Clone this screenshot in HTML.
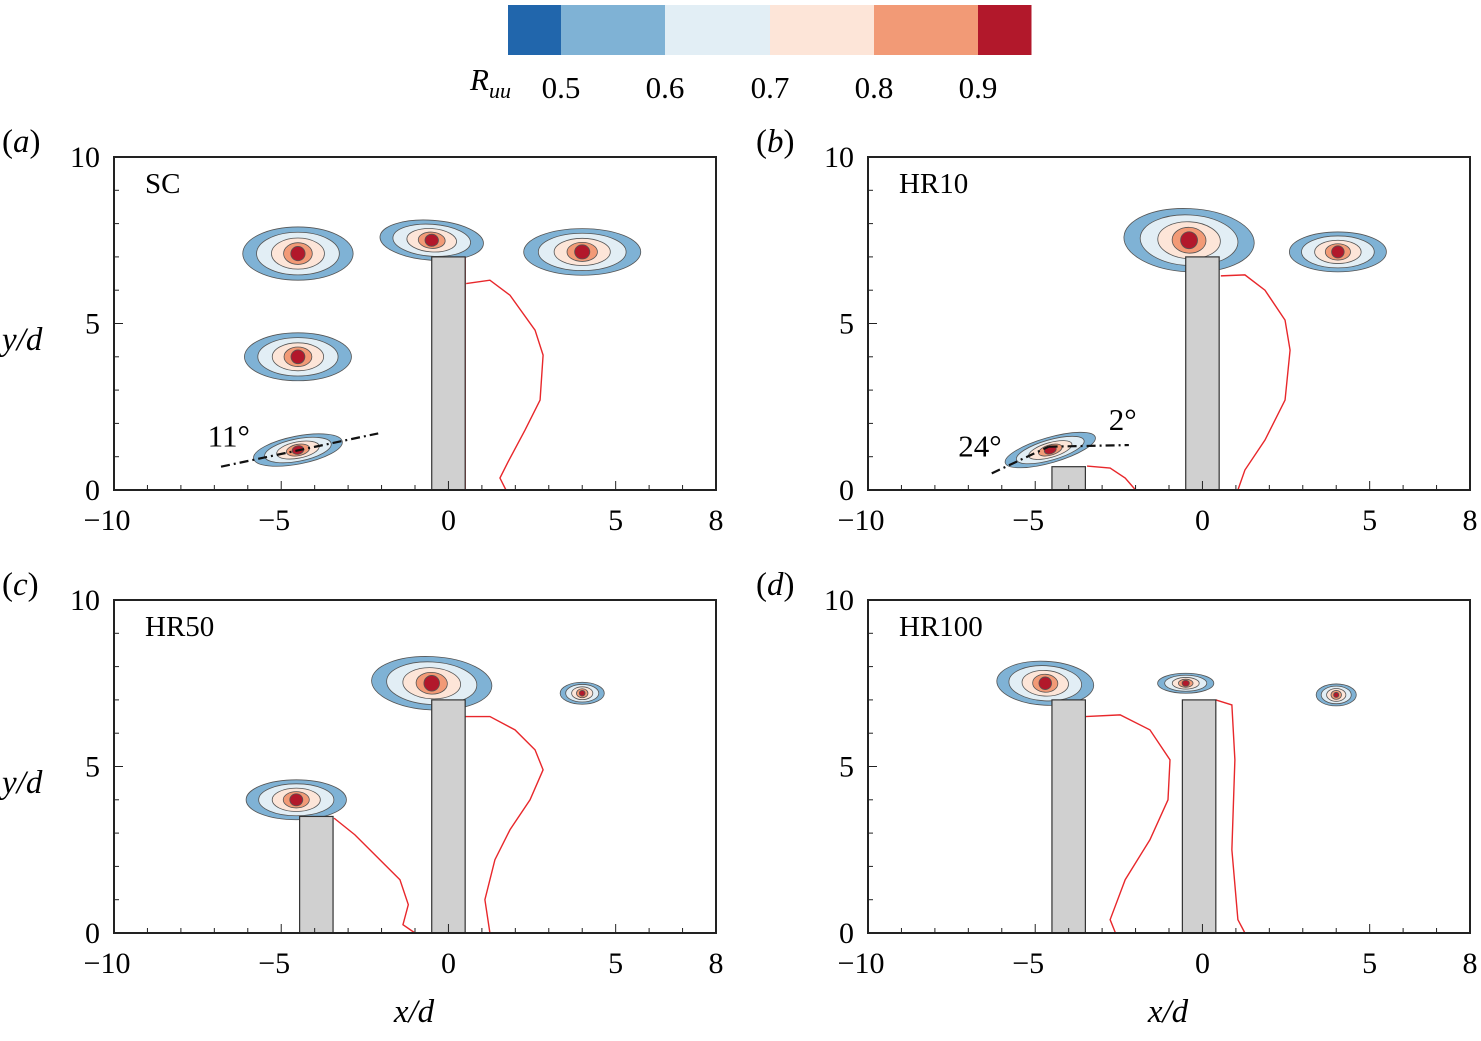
<!DOCTYPE html>
<html><head><meta charset="utf-8">
<style>
body{margin:0;background:#fff;width:1481px;height:1036px;overflow:hidden}
svg text{font-family:"Liberation Serif",serif;fill:#000}
</style></head>
<body>
<svg id="fig" width="1481" height="1036" viewBox="0 0 1481 1036" xmlns="http://www.w3.org/2000/svg">
<g id="cbar"></g>
<g id="panels"></g>
</svg>
<script>
const NS="http://www.w3.org/2000/svg";
const levelColors=["#2166ac","#7fb2d5","#e2eef5","#fde5d8","#f29a76","#b2182b"];
const levelLabels=["0.5","0.6","0.7","0.8","0.9"];
const panelIds=["a","b","c","d"];
const panelNames=["SC","HR10","HR50","HR100"];
// vortices: [x, y, rx, ry, rotDeg] in data units
const vortA=[[-4.5,7.1,1.65,0.8,0],[-0.5,7.5,1.55,0.6,-4],[4.0,7.15,1.75,0.7,0],[-4.5,4.0,1.6,0.72,0],[-4.5,1.2,1.35,0.42,11]];
const vortB=[[-0.4,7.5,1.95,0.95,-3],[4.05,7.15,1.45,0.6,0],[-4.55,1.2,1.4,0.38,16]];
const vortC=[[-0.5,7.5,1.8,0.8,-3],[4.0,7.2,0.66,0.33,0],[-4.55,4.0,1.5,0.6,0]];
const vortD=[[-4.7,7.5,1.45,0.66,-3],[-0.5,7.5,0.84,0.3,0],[4.0,7.15,0.6,0.33,0]];
// cylinders: [xLeft, width, height]
const cylA=[[-0.5,1,7]];
const cylB=[[-4.5,1,0.7],[-0.5,1,7]];
const cylC=[[-4.45,1,3.5],[-0.5,1,7]];
const cylD=[[-4.5,1,7],[-0.6,1,7]];
// red contour lines: arrays of [x,y]
const redA=[[[0.5,0],[0.5,7.0]],[[0.53,6.2],[1.24,6.3],[1.84,5.85],[2.59,4.8],[2.83,4.05],[2.74,2.7],[2.29,1.8],[1.78,0.84],[1.54,0.36],[1.72,0]]];
const redB=[[[0.55,6.43],[1.27,6.46],[1.87,6.0],[2.47,5.1],[2.62,4.2],[2.47,2.7],[1.87,1.5],[1.27,0.6],[1.06,0]],[[-3.45,0.72],[-2.76,0.66],[-2.31,0.36],[-2.0,0]]];
const redC=[[[0.5,6.5],[1.24,6.5],[1.99,6.1],[2.59,5.5],[2.83,4.9],[2.44,4.0],[1.84,3.1],[1.39,2.2],[1.09,1.0],[1.24,0]],[[-3.42,3.45],[-2.8,2.95],[-2.05,2.2],[-1.45,1.6],[-1.2,0.85],[-1.36,0.25],[-1.0,0]]];
const redD=[[[-3.5,6.5],[-2.46,6.55],[-1.57,6.1],[-0.97,5.2],[-1.03,4.0],[-1.57,2.8],[-2.31,1.6],[-2.76,0.4],[-2.6,0]],[[0.4,7.0],[0.88,6.85],[0.97,5.2],[0.88,2.5],[1.06,0.4],[1.27,0]]];
const vorts=[vortA,vortB,vortC,vortD];
const cyls=[cylA,cylB,cylC,cylD];
const reds=[redA,redB,redC,redD];
const xTicks=[-10,-5,0,5,8];
const yTicks=[0,5,10];
const angleLines=[[{x0:-6.8,y0:0.7,x1:-2.1,y1:1.7,label:"11°",lx:-7.2,ly:1.3}],[{x0:-6.3,y0:0.5,x1:-4.6,y1:1.3,label:"24°",lx:-7.3,ly:1.0},{x0:-4.6,y0:1.3,x1:-2.2,y1:1.35,label:"2°",lx:-2.8,ly:1.8}],[],[]];
const origins=[[114,157],[868,157],[114,600],[868,600]];
const PW=602,PH=333;

function mk(tag,attrs,parent){const e=document.createElementNS(NS,tag);for(const k in attrs)e.setAttribute(k,attrs[k]);parent.appendChild(e);return e;}

// colorbar
const cb=document.getElementById('cbar');
const cbX=[508,561,665,770,874,978,1031];
levelColors.forEach((c,i)=>{const r=mk('rect',{x:cbX[i],y:5,width:cbX[i+1]-cbX[i]+0.5,height:50,fill:c},cb);

});
levelLabels.forEach((l,i)=>{const t=mk('text',{x:cbX[i+1],y:98,'font-size':31,'text-anchor':'middle'},cb);t.textContent=l;

});
const rl=mk('text',{x:470,y:90,'font-size':31,'font-style':'italic'},cb);
rl.innerHTML='R<tspan font-size="22" dy="8">uu</tspan>';



const P=document.getElementById('panels');
for(let p=0;p<4;p++){
  const [ox,oy]=origins[p];
  const sx=v=>ox+(v+10)*PW/18, sy=v=>oy+PH-v*PH/10;
  const g=mk('g',{},P);
  
  
  vorts[p].forEach(v=>{
    const vg=mk('g',{transform:`rotate(${-v[4]} ${sx(v[0])} ${sy(v[1])})`},g);
    
    
    const scales=[1,0.75,0.48,0.26,0.13];
    const cols=[levelColors[1],levelColors[2],levelColors[3],levelColors[4],levelColors[5]];
    scales.forEach((s,i)=>{
      const rx=v[2]*s*PW/18, ry=v[3]*Math.max(s,0.2+0.8*s)*PH/10;
      mk('ellipse',{cx:sx(v[0]),cy:sy(v[1]),rx:rx,ry:Math.min(ry,rx),fill:cols[i],stroke:'#555','stroke-width':0.8},vg);
    });
  });
  reds[p].forEach(line=>{
    const pl=mk('polyline',{points:line.map(q=>sx(q[0])+','+sy(q[1])).join(' '),fill:'none',stroke:'#e8272b','stroke-width':1.4},g);
    
    
  });
  cyls[p].forEach(c=>{
    const r=mk('rect',{x:sx(c[0]),y:sy(c[2]),width:c[1]*PW/18,height:c[2]*PH/10,fill:'#d0d0d0',stroke:'#333','stroke-width':1.2},g);
    
    
  });
  angleLines[p].forEach(a=>{
    const l=mk('line',{x1:sx(a.x0),y1:sy(a.y0),x2:sx(a.x1),y2:sy(a.y1),stroke:'#111','stroke-width':2.2,'stroke-dasharray':'9,4,2,4'},g);
    
    
    const t=mk('text',{x:sx(a.lx),y:sy(a.ly),'font-size':31},g);t.textContent=a.label;
    
    
  });
  const fr=mk('rect',{x:ox,y:oy,width:PW,height:PH,fill:'none',stroke:'#222','stroke-width':2},g);
  
  
  for(let v=-9;v<=7;v++){mk('line',{x1:sx(v),y1:oy+PH,x2:sx(v),y2:oy+PH-(v%5===0?9:5),stroke:'#222','stroke-width':1},g);}
  for(let v=1;v<10;v++){mk('line',{x1:ox,y1:sy(v),x2:ox+(v%5===0?9:5),y2:sy(v),stroke:'#222','stroke-width':1},g);}
  xTicks.forEach(v=>{const t=mk('text',{x:sx(v)+(v<0?-7:0),y:oy+PH+40,'font-size':30,'text-anchor':'middle'},g);t.textContent=v<0?'\u2212'+(-v):String(v);
    
    });
  yTicks.forEach(v=>{const t=mk('text',{x:ox-14,y:sy(v)+10,'font-size':30,'text-anchor':'end'},g);t.textContent=String(v);
    
    });
  const pl=mk('text',{x:ox-112,y:oy-5,'font-size':33},g);pl.innerHTML='(<tspan font-style="italic">'+panelIds[p]+'</tspan>)';
  
  
  const nm=mk('text',{x:ox+31,y:oy+36,'font-size':29},g);nm.textContent=panelNames[p];
  
  
  if(p===0||p===2){const yl=mk('text',{x:2,y:oy+193,'font-size':33,'font-style':'italic'},g);yl.textContent='y/d';
    
    }
  if(p>=2){const xl=mk('text',{x:ox+300,y:1022,'font-size':33,'font-style':'italic','text-anchor':'middle'},g);xl.textContent='x/d';
    
    }
}
</script>
</body></html>
